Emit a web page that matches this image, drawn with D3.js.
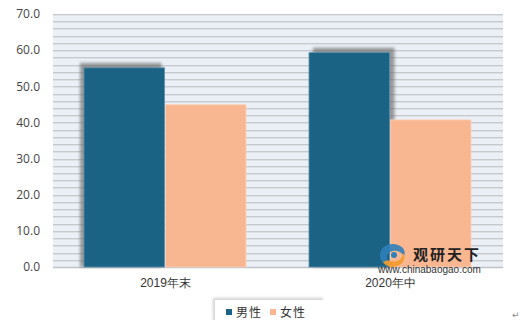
<!DOCTYPE html>
<html>
<head>
<meta charset="utf-8">
<script src="https://cdn.jsdelivr.net/npm/d3@7"></script>
<style>
  body { margin: 0; background: #fff; }
  svg { display: block; font-family: "Noto Sans CJK SC", "DejaVu Sans", sans-serif; }
</style>
</head>
<body>
<div id="chart"></div>
<script>
// data
var categories = ["2019年末", "2020年中"];
var seriesNames = ["男性", "女性"];
var male = [55.1, 59.3];
var female = [44.9, 40.7];
var yTicks = [0, 10, 20, 30, 40, 50, 60, 70];
var colors = ["#1b6385", "#f8b691"];

var width = 520, height = 320;
var margin = { top: 14, right: 17, bottom: 53, left: 53 };
var innerW = width - margin.left - margin.right,
    innerH = height - margin.top - margin.bottom;

var svg = d3.select("#chart").append("svg")
  .attr("width", width)
  .attr("height", height);

var defs = svg.append("defs");
defs.append("filter").attr("id", "blur")
  .attr("x", "-20%").attr("y", "-20%").attr("width", "140%").attr("height", "140%")
  .append("feGaussianBlur").attr("stdDeviation", 1.6);
var ls = defs.append("filter").attr("id", "legshadow")
  .attr("x", "-20%").attr("y", "-50%").attr("width", "140%").attr("height", "200%");
ls.append("feDropShadow").attr("dx", -2).attr("dy", -2).attr("stdDeviation", 1.5)
  .attr("flood-color", "#000").attr("flood-opacity", 0.18);

var g = svg.append("g").attr("transform", "translate(" + margin.left + "," + margin.top + ")");

var x = d3.scaleBand().domain(categories).range([0, innerW]);
var x1 = d3.scaleBand().domain(seriesNames).range([31, x.bandwidth() - 31]);
var y = d3.scaleLinear().domain([0, 70]).range([innerH, 0]);

// plot background and striped grid (minor every 2)
g.append("rect").attr("width", innerW).attr("height", innerH).attr("fill", "#eaf0f6");
var gridVals = d3.range(0, 71, 2);
g.selectAll(".grid").data(gridVals).enter().append("line")
  .attr("x1", 0).attr("x2", innerW)
  .attr("y1", d => Math.round(y(d)) + 0.5).attr("y2", d => Math.round(y(d)) + 0.5)
  .attr("stroke", "#c6c9cd").attr("stroke-width", 1);
g.selectAll(".grid2").data(gridVals.filter(d => d > 0)).enter().append("line")
  .attr("x1", 0).attr("x2", innerW)
  .attr("y1", d => Math.round(y(d)) + 1.5).attr("y2", d => Math.round(y(d)) + 1.5)
  .attr("stroke", "#dde1e6").attr("stroke-width", 1);

// baseline
g.append("line").attr("x1", 0).attr("x2", innerW)
  .attr("y1", innerH + 0.5).attr("y2", innerH + 0.5)
  .attr("stroke", "#bfc3c7").attr("stroke-width", 1.5);

var rows = categories.map((c, i) => ({ cat: c, vals: [male[i], female[i]], i: i }));

// soft shadow behind the male bars
g.selectAll(".shadow").data(rows).enter().append("rect")
  .attr("x", d => x(d.cat) + x1(seriesNames[0]) + (d.i === 0 ? -4 : 4))
  .attr("y", d => y(d.vals[0]) - 5)
  .attr("width", x1.bandwidth())
  .attr("height", d => innerH - y(d.vals[0]) + 5)
  .attr("fill", "#6b6b6b").attr("opacity", 0.65)
  .attr("filter", "url(#blur)");

var grp = g.selectAll(".cat").data(rows).enter().append("g")
  .attr("transform", d => "translate(" + x(d.cat) + ",0)");
grp.selectAll("rect").data(d => d.vals.map((v, k) => ({ k: k, v: v }))).enter().append("rect")
  .attr("x", d => x1(seriesNames[d.k]))
  .attr("y", d => y(d.v))
  .attr("width", x1.bandwidth() - 1)
  .attr("height", d => innerH - y(d.v))
  .attr("fill", d => colors[d.k])
  .attr("stroke", d => d.k === 0 ? "#5a8fab" : "#fbd2bb")
  .attr("stroke-width", 0.8);

// y axis labels
var yAxis = g.append("g").call(d3.axisLeft(y).tickValues(yTicks).tickFormat(d3.format(".1f")).tickSize(0).tickPadding(13));
yAxis.select(".domain").remove();
yAxis.selectAll("text").attr("font-size", 12).attr("fill", "#444")
  .attr("font-family", "'Open Sans', 'DejaVu Sans', sans-serif");

// x axis labels
var xAxis = g.append("g").attr("transform", "translate(0," + innerH + ")")
  .call(d3.axisBottom(x).tickSize(0).tickPadding(11));
xAxis.select(".domain").remove();
xAxis.selectAll("text").attr("font-size", 12).attr("fill", "#333");

// legend
var leg = svg.append("g").attr("transform", "translate(215,300)");
leg.append("rect").attr("width", 110).attr("height", 24).attr("fill", "#fff").attr("filter", "url(#legshadow)");
var items = leg.selectAll(".item").data(seriesNames).enter().append("g")
  .attr("transform", (d, i) => "translate(" + (11 + i * 44) + ",0)");
items.append("rect").attr("y", 9).attr("width", 6).attr("height", 6).attr("fill", (d, i) => colors[i]);
items.append("text").attr("x", 10).attr("y", 16.5).attr("font-size", 12).attr("fill", "#333")
  .attr("letter-spacing", 1).text(d => d);

// watermark
var wm = svg.append("g").attr("transform", "translate(378,242)");
wm.append("path").attr("d", "M2,13 C2,4 12,0 20,3 C26,5 28,10 26,14 C22,8 14,7 10,12 C7,16 10,22 16,22 C10,26 2,22 2,13 Z")
  .attr("fill", "#2f7fb8").attr("opacity", 0.9);
wm.append("path").attr("d", "M5,20 C9,26 18,27 24,21 C27,17 27,13 25,11 C25,17 19,21 13,19 C10,18 7,19 5,20 Z")
  .attr("fill", "#f29b2e").attr("opacity", 0.95);
wm.append("circle").attr("cx", 16).attr("cy", 13).attr("r", 3).attr("fill", "#2f7fb8");
wm.append("text").attr("x", 35).attr("y", 18).attr("font-size", 15).attr("font-weight", "bold")
  .attr("fill", "#222").attr("letter-spacing", 2).text("观研天下");
wm.append("text").attr("x", 0).attr("y", 31).attr("font-size", 10).attr("fill", "#333")
  .attr("font-family", "'Liberation Sans', Arial, sans-serif").text("www.chinabaogao.com");

svg.append("text").attr("x", 512).attr("y", 318).attr("font-size", 9).attr("fill", "#888").text("↵");
</script>
</body>
</html>
